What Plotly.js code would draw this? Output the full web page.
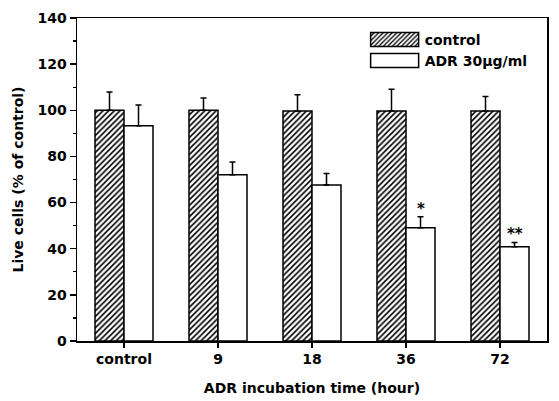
<!DOCTYPE html>
<html>
<head>
<meta charset="utf-8">
<script src="https://cdn.plot.ly/plotly-3.0.1.min.js"></script>
<style>html,body{margin:0;padding:0;background:#fff;}#chart{width:559px;height:401px;}</style>
</head>
<body>
<div id="chart"></div>
<script>
// ---- data ----
const categories = ["control", "9", "18", "36", "72"];
const controlVals = [100, 100, 99.7, 99.7, 99.7];
const controlErr  = [7.9, 5.3, 7.0, 9.4, 6.3];
const adrVals     = [93.3, 72.1, 67.6, 49.1, 40.9];
const adrErr      = [9.0, 5.5, 5.0, 4.8, 1.8];
const sigMarks    = ["", "", "", "*", "**"];
const seriesNames = ["control", "ADR 30\u03bcg/ml"];
const yTicks = [0, 20, 40, 60, 80, 100, 120, 140];

const FONT = "DejaVu Sans, Verdana, sans-serif";
const bargap = 0.383;
const zeros = categories.map(() => 0);

const traces = [
  {
    type: "bar", name: seriesNames[0], x: categories, y: controlVals,
    marker: {color: "#fff", line: {color: "#000", width: 1.5},
             pattern: {shape: "/", fgcolor: "#000", bgcolor: "#fff", size: 4, solidity: 0.4}},
    error_y: {type: "data", symmetric: false, array: controlErr, arrayminus: zeros,
              color: "#000", thickness: 1.5, width: 3}
  },
  {
    type: "bar", name: seriesNames[1], x: categories, y: adrVals,
    marker: {color: "#fff", line: {color: "#000", width: 1.5}},
    error_y: {type: "data", symmetric: false, array: adrErr, arrayminus: zeros,
              color: "#000", thickness: 1.5, width: 3}
  }
];

const offset = (1 - bargap) / 4;
const annotations = [];
sigMarks.forEach((m, i) => {
  if (m) annotations.push({
    x: i + offset, y: adrVals[i] + adrErr[i], xref: "x", yref: "y",
    text: m, showarrow: false, yanchor: "bottom", yshift: -3,
    font: {family: FONT, size: 15, color: "#000", weight: "bold"}
  });
});

const layout = {
  width: 559, height: 401,
  margin: {l: 77, r: 12, t: 18, b: 60},
  paper_bgcolor: "#fff", plot_bgcolor: "#fff",
  font: {family: FONT, size: 14, color: "#000", weight: "bold"},
  barmode: "group", bargap: bargap, bargroupgap: 0,
  showlegend: true,
  legend: {x: 0.612, y: 0.982, xanchor: "left", yanchor: "top",
           bgcolor: "rgba(0,0,0,0)", itemwidth: 50,
           font: {family: FONT, size: 14, color: "#000", weight: "bold"},
           tracegroupgap: 0},
  xaxis: {
    type: "category", range: [-0.5, 4.5],
    showline: true, linecolor: "#000", linewidth: 1.5, mirror: true,
    ticks: "outside", ticklen: 5, tickwidth: 1.5, tickcolor: "#000",
    showgrid: false, zeroline: false,
    tickfont: {family: FONT, size: 14, color: "#000", weight: "bold"},
    title: {text: "ADR incubation time (hour)", standoff: 17,
            font: {family: FONT, size: 14, color: "#000", weight: "bold"}}
  },
  yaxis: {
    range: [0, 140], tickvals: yTicks,
    showline: true, linecolor: "#000", linewidth: 1.5, mirror: true,
    ticks: "outside", ticklen: 6, tickwidth: 1.5, tickcolor: "#000",
    minor: {dtick: 10, ticks: "outside", ticklen: 3, tickwidth: 1.2, tickcolor: "#000", showgrid: false},
    showgrid: false, zeroline: false,
    tickfont: {family: FONT, size: 14, color: "#000", weight: "bold"},
    title: {text: "Live cells (% of control)", standoff: 10,
            font: {family: FONT, size: 14, color: "#000", weight: "bold"}}
  },
  annotations: annotations
};

Plotly.newPlot("chart", traces, layout, {staticPlot: true, displayModeBar: false}).then(() => {
  document.querySelectorAll("#chart .legend .legendpoints path").forEach(p => {
    p.setAttribute("d", "M-24,7H24V-7H-24Z");
  });
});
</script>
</body>
</html>
